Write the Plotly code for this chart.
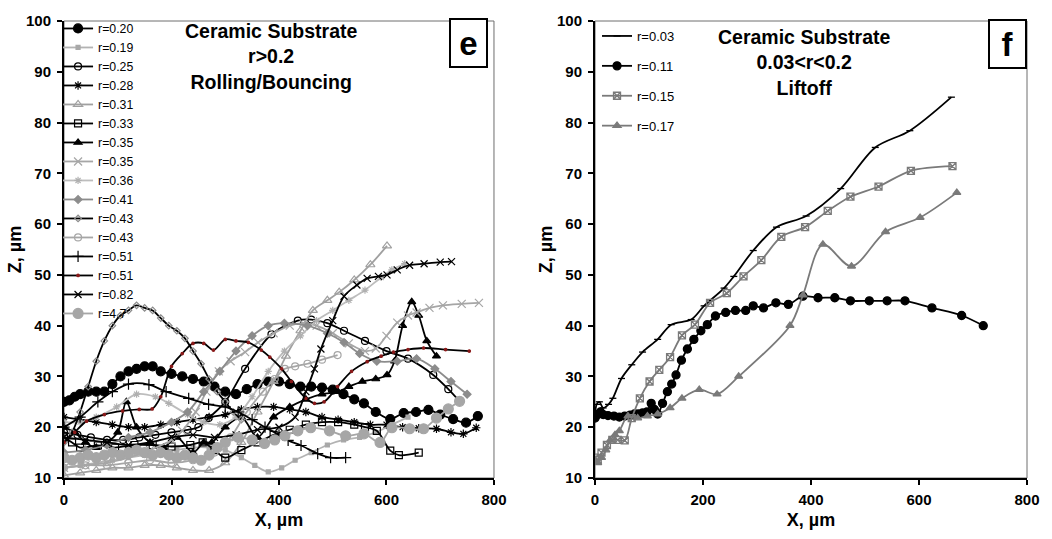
import plotly.graph_objects as go

# ---------------- Panel e : Ceramic substrate, r > 0.2 ----------------
x_e_020 = [0,10,20,30,45,60,75,90,105,120,135,150,165,180,200,220,240,260,280,300,320,340,360,380,400,420,440,460,480,500,520,540,558,580,607,632,655,678,700,724,748,770]
z_e_020 = [25,25.3,26,26.5,27,27,27,28.5,30,31,31.5,32,32,31,30.5,30,29.5,29,28,27,26.5,27.5,28.5,29,29,28.5,28,28,27.8,27.4,26.5,25.5,24.7,23,21.6,22.8,23,23.4,22.5,21.6,20.9,22.2]

x_e_019 = [0,30,60,90,120,150,180,210,240,270,300,330,355,380,405,430,460,490,520,550,580,610,640]
z_e_019 = [12,12.5,13,13.5,14,14.5,15,15.5,16,16,15.5,14,12.5,11.2,12,13.5,15,16.5,17.5,18,19,20.5,22]

x_e_025 = [0,25,50,80,110,140,170,200,230,250,269,300,337,386,435,460,490,521,560,600,640,687,715,736]
z_e_025 = [19,18.5,18,17.5,17.5,18,18.5,19,19.5,20,21.8,25,31.5,38.3,41,41.2,40.5,39,37,35,33.5,30.3,27.5,25.1]

x_e_028 = [0,30,60,90,120,150,180,210,240,270,300,330,360,390,420,450,480,510,540,570,600,630,660,693,720,743,767]
z_e_028 = [22,21.5,21,20.5,20,20,20.5,21,21.5,22,22.5,23.5,24,24,23.5,23,22,21.5,21,20.5,20.5,20,19.8,19.7,19,18.7,19.9]

x_e_031 = [0,30,60,90,120,150,180,210,240,270,300,330,360,390,413,440,463,490,512,540,570,601]
z_e_031 = [10.5,11,11.5,12,12,12.5,12.5,12,11.5,11.5,13,17,23,29,34,39,43,45,46.6,49,52,55.7]

x_e_033 = [0,15,30,63,95,131,165,200,235,258,280,300,330,360,390,420,450,480,510,540,560,582,607,623,660]
z_e_033 = [18,17,16,16.4,16,16.5,16.5,16.2,16.5,17,15.5,14,15.5,17,18.5,19.5,20.5,21,21,20.5,20,19.3,15.4,14.5,15]

x_e_035a = [0,20,40,60,80,100,116,135,160,185,210,240,260,275,300,330,360,390,420,450,480,510,530,555,580,601,615,630,647,660,675,693]
z_e_035a = [20,19,17,16,17,19,25,20,17,16,18,15,17,17,20,22,18,22,24,25.5,26.5,27,28,29,29.5,30.3,33,40,44.7,42,37,34]

x_e_035b = [0,40,80,120,160,200,220,245,265,288,310,337,361,390,420,445,470,500,530,560,580,600,620,640,656,680,705,740,772]
z_e_035b = [12,12.5,13,14,15.5,17.5,19.3,23,27,31,33,34.8,36.7,38.5,40,40.5,40,38.5,36.5,35,35.5,38,40.6,42,42.6,43.5,44,44.3,44.5]

x_e_036 = [0,30,60,98,135,170,195,230,260,290,320,350,380,410,440,470,500,530,560,590,610,634]
z_e_036 = [21,21,22,24,26.5,26,24.7,22.5,21,20.5,22,26,31,35,38,41,43,45,47,49.5,51,52.2]

x_e_041 = [0,40,80,120,160,200,230,260,290,320,350,380,410,453,490,521,550,582,620,656,690,720,750]
z_e_041 = [15,15.5,16.5,18,19,21,23,27,31,35,38,40,40.5,40,38.5,36.7,34.5,33,33,33.5,31.5,29,26.5]

x_e_043a = [0,15,30,45,60,75,90,105,120,135,150,165,180,195,210,225,240,255,270,285,300,315,330]
z_e_043a = [17,19,23,28,33,37,40,42,43,44,43.5,43,41.5,40,39,37.5,35,32.5,29.5,27,25,23,21.5]

x_e_043b = [0,40,80,120,160,200,240,280,310,340,370,392,411,430,453,480,509]
z_e_043b = [12,12.5,12.5,13,13.5,13,13.5,15,18,23,27,29.5,31.5,32,32.5,33.3,34.2]

x_e_051a = [0,30,63,90,120,158,190,232,269,300,324,350,374,400,417,441,472,496,524]
z_e_051a = [20,22,25,27,28.5,28.4,27,25.7,24.5,24,23,21.5,20,18.5,17.4,16.4,14.8,14,14]

x_e_051b = [0,20,42,75,109,140,164,180,200,220,240,260,278,300,320,343,367,383,405,423,450,466,484,509,535,564,590,613,640,669,710,754]
z_e_051b = [17,19,21.2,22.5,23.2,23.5,23.6,26,32,34.5,36.5,36.5,35.2,37.3,37,36.7,35.2,33.8,31.5,29,25.7,24.7,25,28,31,32.9,34,34.8,35.3,35.6,35.3,35]

x_e_082 = [0,40,80,120,160,200,240,280,320,360,400,430,450,466,478,500,521,545,564,585,601,620,643,670,700,721]
z_e_082 = [18,17.5,17,16.5,17,18,18.5,18,18.5,19.5,20,22,27,31.5,35.4,41,45.8,48,49.3,49.7,50,51,51.9,52.2,52.5,52.6]

x_e_47 = [0,15,30,45,60,75,90,105,120,135,150,165,180,195,210,225,240,255,270,285,300,324,350,373,392,411,435,459,494,524,558,588,610,643,669,693,715,736]
z_e_47 = [14,13.5,14,14.5,14,14.5,15,14.5,15,15.5,15,14.5,15,14.5,14,14.5,14,13.5,14.5,16,17,18,17.5,16.8,17.5,18.3,19.3,19.9,19.3,18.3,18.7,17,19.9,19.7,19.7,21.8,23.6,25.1]

# ---------------- Panel f : Ceramic substrate, 0.03 < r < 0.2 ----------------
x_f_003 = [0,3,8,15,25,33,49,68,88,116,141,178,202,239,257,293,336,391,455,519,583,660]
z_f_003 = [22,24.5,25,23.8,24.5,25.7,29.6,32.3,34.8,37.3,40.2,41.2,43.9,47.4,49.7,54.8,59.4,61.6,67,75.1,78.4,85]

x_f_011 = [0,5,10,15,24,35,45,55,65,73,80,88,96,104,110,116,125,134,142,150,160,171,183,196,208,223,242,260,279,293,312,335,358,385,413,444,473,508,541,574,624,679,719]
z_f_011 = [21.8,22.5,23,22.5,22.3,22.2,22,22.2,22.4,22.6,22.6,22.8,23,24.7,23.5,22.6,24.7,27,28.5,30.3,33.2,35.4,37.3,39,40.2,41.9,42.6,43,43,43.9,43.5,44.5,44.2,45.8,45.5,45.5,44.9,44.9,44.9,44.9,43.5,42,40]

x_f_015 = [0,5,12,22,32,42,55,68,83,101,119,139,161,185,213,244,275,308,345,389,431,473,525,585,662]
z_f_015 = [14,13.5,15,16.5,17.5,17.5,17.4,21.8,25.7,29,31.3,33.8,38.1,40.2,44.5,46.4,49.7,52.9,57.5,59.4,62.6,65.4,67.4,70.5,71.4]

x_f_017 = [0,5,12,20,28,37,45,61,79,97,116,139,161,193,226,266,361,385,422,475,538,602,670]
z_f_017 = [13.5,13,14,15.5,17.4,18.5,19.3,22.2,21.8,22.2,22.6,23.8,25.7,27.4,26.5,30,40,46,56,51.7,58.5,61.3,66.2]

x_ticks = [0, 200, 400, 600, 800]
z_ticks = [10, 20, 30, 40, 50, 60, 70, 80, 90, 100]

FONT = "Liberation Sans"
BLACK = "#000000"

# (name, x, z, line colour, symbol, marker colour, size)
panel_e = [
    ("r=0.20", x_e_020, z_e_020, BLACK, "circle", BLACK, 9),
    ("r=0.19", x_e_019, z_e_019, "#b3b3b3", "square", "#a8a8a8", 4),
    ("r=0.25", x_e_025, z_e_025, BLACK, "circle-open", BLACK, 7),
    ("r=0.28", x_e_028, z_e_028, BLACK, "asterisk-open", BLACK, 7),
    ("r=0.31", x_e_031, z_e_031, "#a0a0a0", "triangle-up-open", "#a0a0a0", 8),
    ("r=0.33", x_e_033, z_e_033, BLACK, "square-open", BLACK, 7),
    ("r=0.35", x_e_035a, z_e_035a, BLACK, "triangle-up", BLACK, 7),
    ("r=0.35", x_e_035b, z_e_035b, "#a6a6a6", "x-thin-open", "#a6a6a6", 8),
    ("r=0.36", x_e_036, z_e_036, "#bdbdbd", "asterisk-open", "#b0b0b0", 6),
    ("r=0.41", x_e_041, z_e_041, "#8c8c8c", "diamond", "#8c8c8c", 6),
    ("r=0.43", x_e_043a, z_e_043a, BLACK, "diamond-open", "#8a8a8a", 5),
    ("r=0.43", x_e_043b, z_e_043b, "#a6a6a6", "circle-open", "#a6a6a6", 7),
    ("r=0.51", x_e_051a, z_e_051a, BLACK, "cross-thin-open", BLACK, 8),
    ("r=0.51", x_e_051b, z_e_051b, BLACK, "circle", "#8b1a1a", 2.5),
    ("r=0.82", x_e_082, z_e_082, BLACK, "x-thin-open", BLACK, 7),
    ("r=4.7", x_e_47, z_e_47, "#a6a6a6", "circle", "#a6a6a6", 10),
]

panel_f = [
    ("r=0.03", x_f_003, z_f_003, BLACK, "line-ew-open", BLACK, 5),
    ("r=0.11", x_f_011, z_f_011, BLACK, "circle", BLACK, 8),
    ("r=0.15", x_f_015, z_f_015, "#7a7a7a", "square-x-open", "#7a7a7a", 7),
    ("r=0.17", x_f_017, z_f_017, "#7a7a7a", "triangle-up", "#7a7a7a", 7),
]

fig = go.Figure()

for name, xs, zs, lc, sym, mc, sz in panel_e:
    fig.add_trace(go.Scatter(
        x=xs, y=zs, name=name, mode="lines+markers",
        line=dict(color=lc, width=1.8, shape="spline", smoothing=0.9),
        marker=dict(symbol=sym, color=mc, size=sz, line=dict(color=mc, width=1.2)),
        xaxis="x", yaxis="y", legend="legend",
    ))

for name, xs, zs, lc, sym, mc, sz in panel_f:
    fig.add_trace(go.Scatter(
        x=xs, y=zs, name=name, mode="lines+markers", legendgroup=name,
        line=dict(color=lc, width=1.8, shape="spline", smoothing=0.9),
        marker=dict(symbol=sym, color=mc, size=sz, line=dict(color=mc, width=1.3)),
        xaxis="x2", yaxis="y2", legend="legend2",
    ))

W, H = 1052, 539
ML, MR, MT, MB = 64, 16, 15, 61
PW = W - ML - MR
PH = H - MT - MB


def px_x(p):
    return (p - ML) / PW


def px_y(p):
    return (H - MB - p) / PH


tickfont = dict(family=FONT, size=15, color="black", weight="bold")
titlefont = dict(family=FONT, size=18, color="black", weight="bold")

axis_common = dict(
    showgrid=False, zeroline=False, showline=True, linecolor="black", linewidth=2,
    ticks="outside", ticklen=5, tickwidth=2, tickcolor="black", tickfont=tickfont,
)

fig.update_layout(
    width=W, height=H,
    margin=dict(l=ML, r=MR, t=MT, b=MB),
    paper_bgcolor="white", plot_bgcolor="white",
    font=dict(family=FONT, color="black"),
    xaxis=dict(domain=[0, px_x(498)], range=[0, 800], tickvals=x_ticks, anchor="y",
               ticklabelstandoff=2,
               title=dict(text="X, µm", font=titlefont, standoff=6), **axis_common),
    yaxis=dict(domain=[0, 1], range=[10, 100], tickvals=z_ticks, anchor="x",
               ticklabelstandoff=3,
               title=dict(text="Z, µm", font=titlefont, standoff=0), **axis_common),
    xaxis2=dict(domain=[px_x(600), 1], range=[0, 800], tickvals=x_ticks, anchor="y2",
                ticklabelstandoff=2,
                title=dict(text="X, µm", font=titlefont, standoff=6), **axis_common),
    yaxis2=dict(domain=[0, 1], range=[10, 100], tickvals=z_ticks, anchor="x2",
                ticklabelstandoff=3,
                title=dict(text="Z, µm", font=titlefont, standoff=0), **axis_common),
    legend=dict(x=px_x(58), y=px_y(326), xanchor="left", yanchor="bottom",
                bgcolor="rgba(0,0,0,0)", font=dict(family=FONT, size=12.3, color="black"),
                itemwidth=30, tracegroupgap=0),
    legend2=dict(x=px_x(602), y=px_y(15), xanchor="left", yanchor="top",
                 bgcolor="rgba(0,0,0,0)", font=dict(family=FONT, size=13, color="black"),
                 itemwidth=30, tracegroupgap=10),
    showlegend=True,
)

# thin grey frame on top / right of each panel
for xr, yr in (("x domain", "y domain"), ("x2 domain", "y2 domain")):
    fig.add_shape(type="rect", xref=xr, yref=yr, x0=0, x1=1, y0=0, y1=1,
                  line=dict(color="#6e6e6e", width=1), layer="below")

title_font = dict(family=FONT, size=19.5, color="black", weight="bold")
fig.add_annotation(text="Ceramic Substrate<br>r>0.2<br>Rolling/Bouncing",
                   xref="paper", yref="paper", x=px_x(273), y=px_y(51),
                   xanchor="center", yanchor="middle", showarrow=False,
                   font=title_font, align="center")
fig.add_annotation(text="Ceramic Substrate<br>0.03<r<0.2<br>Liftoff",
                   xref="paper", yref="paper", x=px_x(811), y=px_y(57),
                   xanchor="center", yanchor="middle", showarrow=False,
                   font=title_font, align="center")

box_font = dict(family=FONT, size=33, color="black", weight="bold")
for label, cx, cy in (("e", 472.5, 37), ("f", 1016, 38)):
    fig.add_annotation(text=label, xref="paper", yref="paper", x=px_x(cx), y=px_y(cy),
                       xanchor="center", yanchor="middle", showarrow=False,
                       font=box_font, width=35, height=46,
                       bordercolor="black", borderwidth=2, borderpad=0,
                       bgcolor="white")

fig.write_html("out.html")
